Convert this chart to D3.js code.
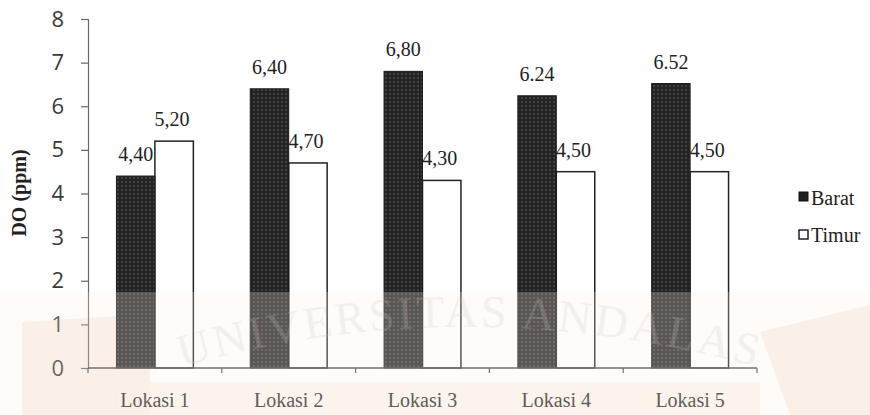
<!DOCTYPE html>
<html>
<head>
<meta charset="utf-8">
<script src="https://cdn.jsdelivr.net/npm/d3@7"></script>
<style>
  html, body { margin: 0; padding: 0; background: #fff; }
  svg { display: block; }
</style>
</head>
<body>
<svg id="chart" width="870" height="415"></svg>
<script>
// Dissolved oxygen per sampling location, west vs east side
const categories = ["Lokasi 1", "Lokasi 2", "Lokasi 3", "Lokasi 4", "Lokasi 5"];
const seriesNames = ["Barat", "Timur"];
const barat = [4.40, 6.40, 6.80, 6.24, 6.52];
const timur = [5.20, 4.70, 4.30, 4.50, 4.50];
const baratLabels = ["4,40", "6,40", "6,80", "6.24", "6.52"];
const timurLabels = ["5,20", "4,70", "4,30", "4,50", "4,50"];
const yTicks = [0, 1, 2, 3, 4, 5, 6, 7, 8];

const svg = d3.select("#chart");
const serif = "'Liberation Serif', 'Times New Roman', serif";
const sans = "'Open Sans', 'Noto Sans', sans-serif";

const x = d3.scaleBand().domain(categories).range([88, 757]).paddingInner(0).paddingOuter(0);
const x1 = d3.scaleBand().domain(seriesNames).range([0, x.bandwidth()]).paddingInner(0).paddingOuter(0.74);
const y = d3.scaleLinear().domain([0, 8]).range([368, 19]);

// dotted dark fill for the Barat bars
const defs = svg.append("defs");
const pat = defs.append("pattern").attr("id", "dots")
  .attr("patternUnits", "userSpaceOnUse").attr("width", 4).attr("height", 4);
pat.append("rect").attr("width", 4).attr("height", 4).attr("fill", "#232323");
pat.append("circle").attr("cx", 2).attr("cy", 2).attr("r", 0.75).attr("fill", "#6a6a6a");

const rows = categories.map((c, i) => ({ cat: c, barat: barat[i], timur: timur[i], bl: baratLabels[i], tl: timurLabels[i] }));

// faint beige panels of the university watermark (behind the chart)
const wmBack = svg.append("g").attr("pointer-events", "none");
wmBack.append("path").attr("d", "M22,322 L150,314 L150,415 L22,415 Z")
  .attr("fill", "#f5e3d2").attr("opacity", 0.5);
wmBack.append("path").attr("d", "M760,332 L870,305 L870,415 L790,415 Z")
  .attr("fill", "#f5e3d2").attr("opacity", 0.5);
wmBack.append("path").attr("d", "M150,382 L760,382 L760,415 L150,415 Z")
  .attr("fill", "#f9ecdf").attr("opacity", 0.5);

// y axis
const yAxis = svg.append("g").attr("transform", "translate(88,0)")
  .call(d3.axisLeft(y).tickValues(yTicks).tickSize(7).tickPadding(17).tickFormat(d3.format("d")));
yAxis.select(".domain").attr("stroke", "#666").attr("stroke-width", 1.2);
yAxis.selectAll(".tick line").attr("stroke", "#666").attr("stroke-width", 1.2);
yAxis.selectAll(".tick text").attr("font-family", sans).attr("font-size", 22).attr("fill", "#3a3a3a");

// y title
svg.append("text")
  .attr("transform", "translate(26,193) rotate(-90)")
  .attr("text-anchor", "middle")
  .attr("font-family", serif).attr("font-weight", "bold").attr("font-size", 20).attr("fill", "#222")
  .text("DO (ppm)");

// Timur bars and their labels (drawn first so the darker bars sit in front)
svg.append("g").selectAll("rect").data(rows).join("rect")
  .attr("x", d => x(d.cat) + x1("Timur"))
  .attr("y", d => y(d.timur))
  .attr("width", x1.bandwidth())
  .attr("height", d => y(0) - y(d.timur))
  .attr("fill", "#fff").attr("stroke", "#222").attr("stroke-width", 1.5);

svg.append("g").selectAll("text").data(rows).join("text")
  .attr("x", d => x(d.cat) + x1("Timur") + x1.bandwidth() / 2 - 2)
  .attr("y", d => y(d.timur) - 15)
  .attr("text-anchor", "middle")
  .attr("font-family", serif).attr("font-size", 20).attr("fill", "#222")
  .text(d => d.tl);

// Barat bars and labels
svg.append("g").selectAll("rect").data(rows).join("rect")
  .attr("x", d => x(d.cat) + x1("Barat"))
  .attr("y", d => y(d.barat))
  .attr("width", x1.bandwidth())
  .attr("height", d => y(0) - y(d.barat))
  .attr("fill", "url(#dots)").attr("stroke", "#1a1a1a").attr("stroke-width", 1);

svg.append("g").selectAll("text").data(rows).join("text")
  .attr("x", d => x(d.cat) + x1("Barat") + x1.bandwidth() / 2)
  .attr("y", d => y(d.barat) - 15)
  .attr("text-anchor", "middle")
  .attr("font-family", serif).attr("font-size", 20).attr("fill", "#222")
  .text(d => d.bl);

// x axis line with ticks at the category boundaries
svg.append("line").attr("x1", 88).attr("x2", 757).attr("y1", y(0)).attr("y2", y(0))
  .attr("stroke", "#444").attr("stroke-width", 1.3);
const bounds = categories.map(c => x(c)).concat([x.range()[1]]);
svg.append("g").selectAll("line").data(bounds).join("line")
  .attr("x1", d => d).attr("x2", d => d).attr("y1", y(0)).attr("y2", y(0) + 5)
  .attr("stroke", "#444").attr("stroke-width", 1.2);

svg.append("g").selectAll("text").data(categories).join("text")
  .attr("x", d => x(d) + x.bandwidth() / 2)
  .attr("y", 407)
  .attr("text-anchor", "middle")
  .attr("font-family", serif).attr("font-size", 20).attr("fill", "#2a2a2a")
  .text(d => d);

// legend
const legend = svg.append("g");
legend.append("rect").attr("x", 799).attr("y", 192).attr("width", 9).attr("height", 9)
  .attr("fill", "#1f1f1f").attr("stroke", "#111");
legend.append("text").attr("x", 811).attr("y", 205)
  .attr("font-family", serif).attr("font-size", 20).attr("fill", "#222").text(seriesNames[0]);
legend.append("rect").attr("x", 799).attr("y", 230).attr("width", 9).attr("height", 9)
  .attr("fill", "#fff").attr("stroke", "#222").attr("stroke-width", 1.5);
legend.append("text").attr("x", 811).attr("y", 242)
  .attr("font-family", serif).attr("font-size", 20).attr("fill", "#222").text(seriesNames[1]);

// light wash and arched name of the watermark over the lower part
const wm = svg.append("g").attr("pointer-events", "none");
wm.append("rect").attr("x", 0).attr("y", 292).attr("width", 870).attr("height", 123)
  .attr("fill", "#fbf1e8").attr("opacity", 0.25);
defs.append("path").attr("id", "wmArc").attr("d", "M165,372 Q462,282 775,372");
wm.append("text")
  .attr("font-family", serif).attr("font-size", 46).attr("letter-spacing", 3)
  .attr("fill", "#d8c6bc").attr("opacity", 0.22)
  .append("textPath").attr("href", "#wmArc").attr("startOffset", "50%").attr("text-anchor", "middle")
  .text("UNIVERSITAS ANDALAS");
</script>
</body>
</html>
